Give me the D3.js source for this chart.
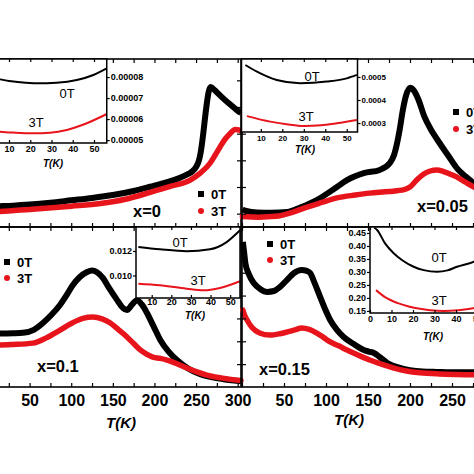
<!DOCTYPE html>
<html><head><meta charset="utf-8">
<script src="https://cdn.jsdelivr.net/npm/d3@7/dist/d3.min.js"></script>
<style>body{margin:0;background:#fff}svg{display:block;font-family:"Liberation Sans",Arial,sans-serif}</style>
</head><body>
<svg id="c" width="474" height="474"></svg>
<script>
// ================= DATA =================
const fields = ["0T", "3T"];
const compositions = ["x=0", "x=0.05", "x=0.1", "x=0.15"];
const mainXTicks = [0, 25, 50, 75, 100, 125, 150, 175, 200, 225, 250, 275, 300];
const mainXLabels = [50, 100, 150, 200, 250, 300];
const topYTicks = [0.5, 1.5, 2.5, 3.5, 4.5, 5.5];
const botYTicks = [1, 2, 3, 4, 5, 6];

// x = 0 (main, arbitrary units)
const T_a0 = [5, 14, 30, 50, 75, 100, 125, 150, 175, 195, 215, 230, 240, 246, 250, 253, 255, 257, 259, 261, 263, 265, 267.5, 270, 275, 280, 290, 300, 304];
const V_a0 = [0.77, 0.78, 0.8, 0.84, 0.91, 1.0, 1.09, 1.2, 1.35, 1.51, 1.68, 1.84, 1.98, 2.1, 2.25, 2.45, 2.7, 3.1, 3.6, 4.15, 4.65, 5.05, 5.25, 5.2, 5.05, 4.9, 4.62, 4.36, 4.27];
const T_a3 = [5, 14, 50, 100, 135, 165, 195, 220, 243, 255, 267, 273, 279, 285, 291, 297, 301, 304];
const V_a3 = [0.57, 0.58, 0.66, 0.78, 0.88, 1.04, 1.3, 1.53, 1.76, 2.02, 2.4, 2.7, 3.01, 3.3, 3.51, 3.66, 3.64, 3.6];

// x = 0.05
const T_b0 = [0.5, 5, 18, 35, 54, 70, 89, 113, 125, 145, 164, 176, 181, 185, 188, 191, 195, 200, 205, 210, 217, 225, 232, 245, 256, 266, 276, 290, 300];
const V_b0 = [0.66, 0.6, 0.54, 0.53, 0.56, 0.74, 1.01, 1.5, 1.76, 2.02, 2.14, 2.4, 2.7, 3.2, 3.7, 4.3, 4.9, 5.22, 5.1, 4.78, 4.15, 3.65, 3.3, 2.7, 2.2, 1.9, 1.65, 1.42, 1.3];
const T_b3 = [0.5, 20, 40, 60, 74, 95, 113, 135, 152, 175, 193, 200, 208, 216, 224, 232, 240, 248, 256, 266, 276, 290, 300];
const V_b3 = [0.39, 0.37, 0.4, 0.55, 0.71, 0.92, 1.09, 1.2, 1.27, 1.33, 1.4, 1.5, 1.76, 1.98, 2.1, 2.14, 2.08, 1.98, 1.87, 1.68, 1.5, 1.3, 1.18];

// x = 0.1
const T_c0 = [5, 14, 30, 42, 55, 66, 76, 86.5, 95, 102, 110, 119, 125, 131, 138, 146, 155, 161, 167, 173, 179, 185, 191, 199, 207, 217, 227, 240, 255, 270, 285, 299, 304];
const V_c0 = [2.34, 2.34, 2.35, 2.37, 2.5, 2.8, 3.15, 3.59, 4.05, 4.46, 4.8, 5.03, 5.1, 5.02, 4.77, 4.3, 3.81, 3.5, 3.37, 3.6, 3.8, 3.6, 3.24, 2.65, 2.06, 1.55, 1.18, 0.82, 0.56, 0.42, 0.33, 0.27, 0.25];
const T_c3 = [5, 14, 30, 54, 70, 86.5, 100, 114, 126, 137, 147, 157, 167, 175, 183, 190, 198, 207, 215, 227, 239, 251, 263, 280, 299, 304];
const V_c3 = [1.84, 1.84, 1.86, 1.92, 2.15, 2.49, 2.78, 3.0, 3.06, 2.98, 2.8, 2.5, 2.19, 1.9, 1.62, 1.45, 1.31, 1.25, 1.18, 1.02, 0.83, 0.66, 0.52, 0.4, 0.3, 0.28];

// x = 0.15
const T_d0 = [1, 2.5, 4, 8, 14, 22, 30, 38, 45, 54, 62, 71, 77, 81, 87, 93, 99, 105, 113, 121, 133, 145, 151, 157, 165, 173, 186, 200, 215, 232, 255, 276, 300];
const V_d0 = [6.35, 5.9, 5.42, 4.95, 4.55, 4.28, 4.16, 4.2, 4.37, 4.7, 4.99, 5.12, 5.08, 4.99, 4.5, 3.94, 3.4, 2.93, 2.5, 2.19, 1.88, 1.62, 1.55, 1.49, 1.28, 1.05, 0.86, 0.74, 0.68, 0.66, 0.64, 0.64, 0.64];
const T_d3 = [1, 3, 6, 12, 21, 33, 45, 54, 63, 71, 80, 89, 97, 105, 115, 125, 138, 152, 166, 181, 196, 212, 235, 255, 276, 300];
const V_d3 = [3.37, 3.15, 2.93, 2.6, 2.36, 2.27, 2.33, 2.41, 2.5, 2.58, 2.52, 2.36, 2.17, 1.97, 1.8, 1.62, 1.4, 1.18, 1.0, 0.83, 0.7, 0.62, 0.57, 0.55, 0.54, 0.54];

// insets (low temperature)
const insetXTicks = [0, 10, 20, 30, 40, 50];
const iT_a0 = [2, 5.8, 10, 15.2, 23, 32.4, 41.9, 49.7, 56];
const iV_a0 = [7.95e-5, 7.89e-5, 7.81e-5, 7.75e-5, 7.70e-5, 7.73e-5, 7.86e-5, 8.1e-5, 8.41e-5];
const iT_a3 = [2, 5.8, 13, 21.4, 29.3, 37.2, 46.6, 56];
const iV_a3 = [5.45e-5, 5.40e-5, 5.35e-5, 5.32e-5, 5.35e-5, 5.48e-5, 5.80e-5, 6.24e-5];
const iYTicks_a = [5e-5, 6e-5, 7e-5, 8e-5];

const iT_b0 = [2.8, 8.2, 17.4, 28.3, 40.7, 50, 54.7];
const iV_b0 = [5.52e-4, 5.23e-4, 4.87e-4, 4.73e-4, 4.80e-4, 4.94e-4, 5.09e-4];
const iT_b3 = [3.5, 14.4, 22, 30, 38, 45.4, 54.7];
const iV_b3 = [3.30e-4, 3.06e-4, 2.95e-4, 2.87e-4, 2.9e-4, 2.99e-4, 3.13e-4];
const iYTicks_b = [3e-4, 4e-4, 5e-4];

const iT_c0 = [3.2, 14.2, 27.8, 39.7, 48.2, 55];
const iV_c0 = [0.01233, 0.01214, 0.01198, 0.01214, 0.01273, 0.01369];
const iT_c3 = [3.2, 14.2, 27.8, 36.3, 44.8, 55];
const iV_c3 = [0.00933, 0.0092, 0.00892, 0.00879, 0.00898, 0.00953];
const iYTicks_c = [0.010, 0.012];

const iT_d0 = [2, 3.3, 7, 11, 15, 20.3, 25, 31.2, 36, 40.5, 48.4, 55];
const iV_d0 = [0.47, 0.4615, 0.41, 0.372, 0.345, 0.32, 0.307, 0.301, 0.306, 0.32, 0.34, 0.37];
const iT_d3 = [2.8, 7, 12.6, 18, 23.3, 28, 34.4, 41, 48.4, 55];
const iV_d3 = [0.23, 0.203, 0.181, 0.167, 0.158, 0.153, 0.15, 0.153, 0.161, 0.17];
const iYTicks_d = [0.15, 0.20, 0.25, 0.30, 0.35, 0.40, 0.45];

// ================= LAYOUT =================
const BLACK = "#000", RED = "#e8141c";
const svg = d3.select("#c");

const panels = [
  {T0: T_a0, V0: V_a0, T3: T_a3, V3: V_a3, x0: -12, x1: 241, y0: 59, y1: 227, xdom: [0, 304], ydom: [0, 6.3], yt: topYTicks, inner: "right", labels: false,
   leg: [201, 194, 211], comp: [133, 217]},
  {T0: T_b0, V0: V_b0, T3: T_b3, V3: V_b3, x0: 242, x1: 494, y0: 59, y1: 227, xdom: [0, 300], ydom: [0, 6.3], yt: topYTicks, inner: "left", labels: false,
   leg: [456, 112, 129], comp: [417, 212]},
  {T0: T_c0, V0: V_c0, T3: T_c3, V3: V_c3, x0: -12, x1: 241, y0: 227, y1: 387, xdom: [0, 304], ydom: [0, 7], yt: botYTicks, inner: "right", labels: true,
   leg: [7, 262, 278], comp: [37, 372], tk: [121, 428]},
  {T0: T_d0, V0: V_d0, T3: T_d3, V3: V_d3, x0: 242, x1: 494, y0: 227, y1: 387, xdom: [0, 300], ydom: [0, 7], yt: botYTicks, inner: "left", labels: true,
   leg: [270, 244, 260], comp: [259, 375], tk: [349, 425]}
];

const insets = [
  {T0: iT_a0, V0: iV_a0, T3: iT_a3, V3: iV_a3, yt: iYTicks_a, fmt: d3.format(".5f"), side: "right",
   x0: -12.25, x1: 106.75, xdom: [0, 56], y0: 59, y1: 143, ydom: [4.86e-5, 8.86e-5], fs: 9, xp: 3,
   l0: [67, 98], l3: [36, 127], tk: [53, 167]},
  {T0: iT_b0, V0: iV_b0, T3: iT_b3, V3: iV_b3, yt: iYTicks_b, fmt: d3.format(".4f"), side: "right",
   x0: 241.5, x1: 357.5, xdom: [1, 55], y0: 59, y1: 132, ydom: [2.61e-4, 5.78e-4], fs: 8, xp: 3,
   l0: [312, 81], l3: [306, 121], tk: [305, 153]},
  {T0: iT_c0, V0: iV_c0, T3: iT_c3, V3: iV_c3, yt: iYTicks_c, fmt: d3.format(".3f"), side: "left",
   x0: 136, x1: 240, xdom: [2, 55], y0: 227, y1: 298, ydom: [0.00816, 0.01396], fs: 9, xp: 1,
   l0: [180, 247], l3: [198, 285], tk: [195, 319]},
  {T0: iT_d0, V0: iV_d0, T3: iT_d3, V3: iV_d3, yt: iYTicks_d, fmt: d3.format(".2f"), side: "left",
   x0: 370, x1: 488.25, xdom: [0, 55], y0: 227, y1: 313, ydom: [0.142, 0.473], fs: 9, xp: 3,
   l0: [439, 262], l3: [439, 305], tk: [433, 340]}
];

function styleAxis(g, fs) {
  g.select(".domain").remove();
  g.selectAll(".tick line").attr("stroke", BLACK).attr("stroke-width", 1.2);
  g.selectAll("text").attr("font-size", fs).attr("font-weight", "bold").attr("fill", BLACK)
    .attr("font-family", "'Liberation Sans',Arial,sans-serif");
}

// ----- main panels -----
panels.forEach((p, i) => {
  const x = d3.scaleLinear().domain(p.xdom).range([p.x0, p.x1]);
  const y = d3.scaleLinear().domain(p.ydom).range([p.y1, p.y0]);
  const g = svg.append("g");
  const line = d3.line().x(d => x(d[0])).y(d => y(d[1])).curve(d3.curveMonotoneX);
  g.append("path").datum(d3.zip(p.T0, p.V0)).attr("d", line).attr("fill", "none")
    .attr("stroke", BLACK).attr("stroke-width", 6).attr("stroke-linejoin", "round");
  g.append("path").datum(d3.zip(p.T3, p.V3)).attr("d", line).attr("fill", "none")
    .attr("stroke", RED).attr("stroke-width", 5.5).attr("stroke-linejoin", "round").attr("stroke-linecap", "round");

  // bottom ticks (inward) + labels (only those that land inside the picture)
  const bx = d3.axisBottom(x).tickValues(mainXTicks).tickSize(-4).tickPadding(8)
    .tickFormat(d => (p.labels && mainXLabels.includes(d) && x(d) > 10 && x(d) < 460) ? d : "");
  const gb = g.append("g").attr("transform", `translate(0,${p.y1})`).call(bx);
  styleAxis(gb, 16);
  const gt = g.append("g").attr("transform", `translate(0,${p.y0})`)
    .call(d3.axisTop(x).tickValues(mainXTicks).tickSize(-4).tickFormat(""));
  styleAxis(gt, 16);
  const ya = p.inner === "right" ? d3.axisRight(y) : d3.axisLeft(y);
  const gy = g.append("g").attr("transform", `translate(${p.inner === "right" ? p.x1 : p.x0},0)`)
    .call(ya.tickValues(p.yt).tickSize(-4).tickFormat(""));
  styleAxis(gy, 10);

  g.append("rect").attr("x", p.x0).attr("y", p.y0).attr("width", p.x1 - p.x0).attr("height", p.y1 - p.y0)
    .attr("fill", "none").attr("stroke", BLACK).attr("stroke-width", 1.6);

  // legend
  g.append("rect").attr("x", p.leg[0] - 3).attr("y", p.leg[1] - 3).attr("width", 6).attr("height", 6).attr("fill", BLACK);
  g.append("circle").attr("cx", p.leg[0]).attr("cy", p.leg[2]).attr("r", 3).attr("fill", RED);
  g.append("text").attr("x", p.leg[0] + 10).attr("y", p.leg[1] + 5).text(fields[0])
    .attr("font-size", 13).attr("font-weight", "bold");
  g.append("text").attr("x", p.leg[0] + 10).attr("y", p.leg[2] + 5).text(fields[1])
    .attr("font-size", 13).attr("font-weight", "bold");
  g.append("text").attr("x", p.comp[0]).attr("y", p.comp[1]).text(compositions[i])
    .attr("font-size", 16.5).attr("font-weight", "bold");
  if (p.tk) {
    g.append("text").attr("x", p.tk[0]).attr("y", p.tk[1]).attr("text-anchor", "middle")
      .attr("font-size", 15).attr("font-weight", "bold").attr("font-style", "italic").text("T(K)");
  }
});

// ----- insets -----
insets.forEach(q => {
  const x = d3.scaleLinear().domain(q.xdom).range([q.x0, q.x1]);
  const y = d3.scaleLinear().domain(q.ydom).range([q.y1, q.y0]);
  const g = svg.append("g");
  g.append("rect").attr("x", q.x0).attr("y", q.y0).attr("width", q.x1 - q.x0).attr("height", q.y1 - q.y0)
    .attr("fill", "#fff");
  const line = d3.line().x(d => x(d[0])).y(d => y(d[1])).curve(d3.curveMonotoneX);
  g.append("path").datum(d3.zip(q.T0, q.V0)).attr("d", line).attr("fill", "none").attr("stroke", BLACK).attr("stroke-width", 2);
  g.append("path").datum(d3.zip(q.T3, q.V3)).attr("d", line).attr("fill", "none").attr("stroke", RED).attr("stroke-width", 2);

  const xt = insetXTicks.filter(v => v >= q.xdom[0] - 0.01 && v <= q.xdom[1]);
  const gb = g.append("g").attr("transform", `translate(0,${q.y1})`)
    .call(d3.axisBottom(x).tickValues(xt).tickSize(-3).tickPadding(q.xp)
      .tickFormat(d => (x(d) < 2) ? "" : d));
  styleAxis(gb, q.fs);
  const gt = g.append("g").attr("transform", `translate(0,${q.y0})`)
    .call(d3.axisTop(x).tickValues(xt).tickSize(-3).tickFormat(""));
  styleAxis(gt, q.fs);
  const ya = q.side === "right" ? d3.axisRight(y) : d3.axisLeft(y);
  const gy = g.append("g").attr("transform", `translate(${q.side === "right" ? q.x1 : q.x0},0)`)
    .call(ya.tickValues(q.yt).tickSize(3).tickPadding(1).tickFormat(q.fmt));
  styleAxis(gy, q.fs);

  g.append("rect").attr("x", q.x0).attr("y", q.y0).attr("width", q.x1 - q.x0).attr("height", q.y1 - q.y0)
    .attr("fill", "none").attr("stroke", BLACK).attr("stroke-width", 1.5);

  g.append("text").attr("x", q.l0[0]).attr("y", q.l0[1]).attr("text-anchor", "middle").attr("font-size", 13).text(fields[0]);
  g.append("text").attr("x", q.l3[0]).attr("y", q.l3[1]).attr("text-anchor", "middle").attr("font-size", 13).text(fields[1]);
  g.append("text").attr("x", q.tk[0]).attr("y", q.tk[1]).attr("text-anchor", "middle")
    .attr("font-size", 10).attr("font-weight", "bold").attr("font-style", "italic").text("T(K)");
});
</script>
</body></html>
